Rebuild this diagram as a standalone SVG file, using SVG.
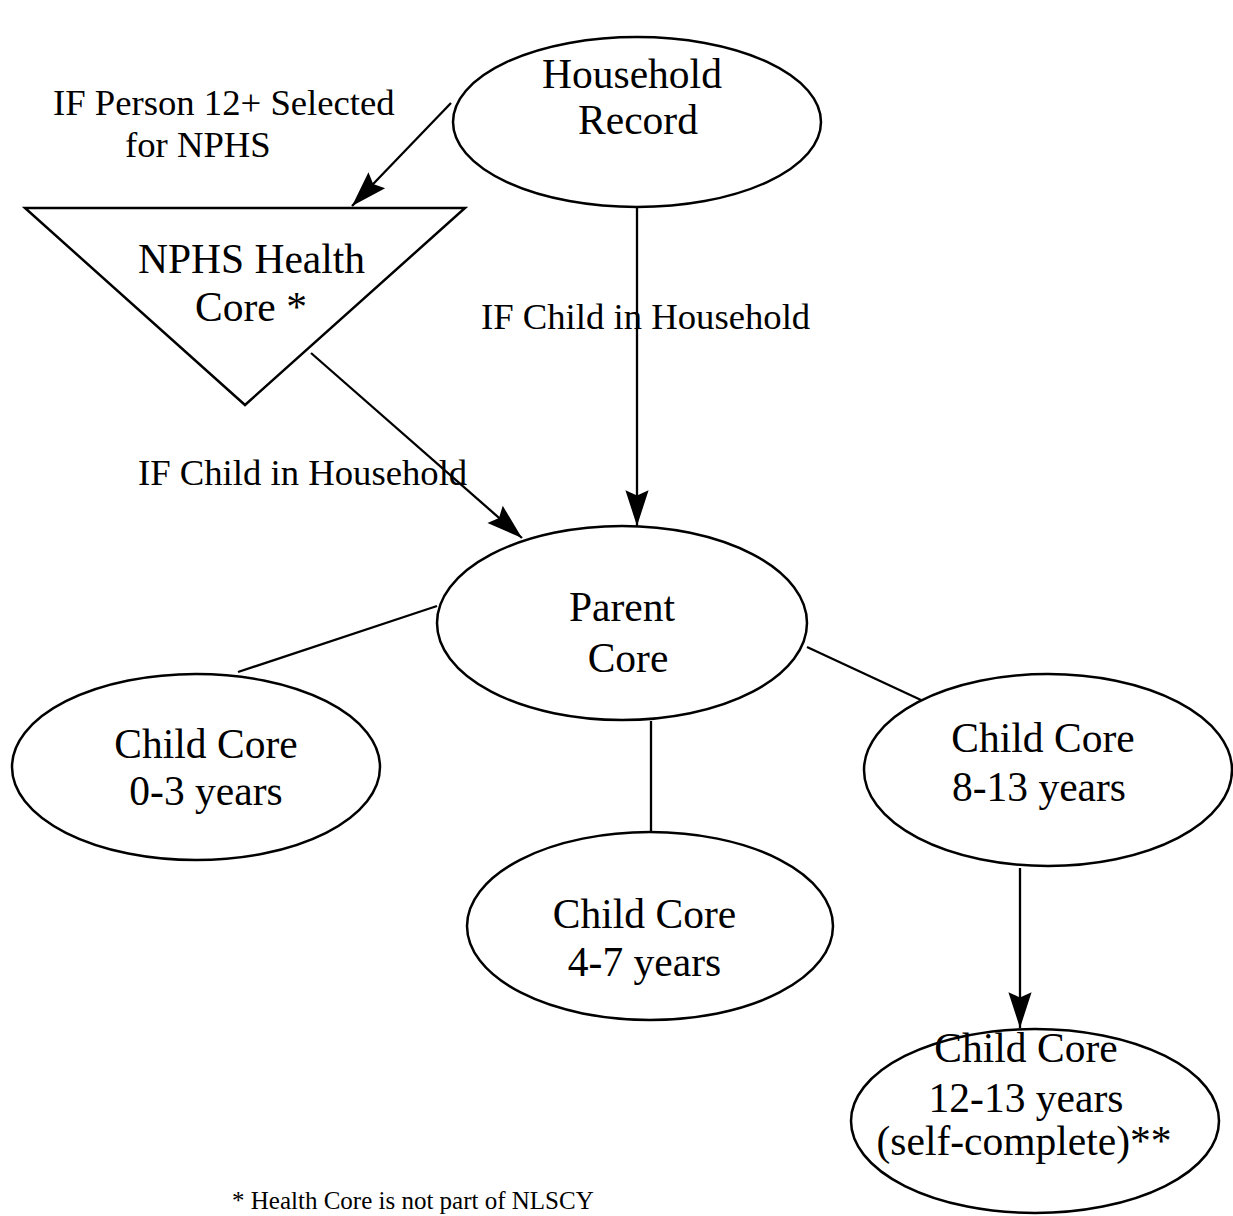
<svg xmlns="http://www.w3.org/2000/svg" width="1233" height="1216" viewBox="0 0 1233 1216">
<defs>
<marker id="arr" markerUnits="userSpaceOnUse" markerWidth="40" markerHeight="30" viewBox="-36 -13 38 26" refX="0" refY="0" orient="auto">
<path d="M0,0 L-34,-11 L-29,0 L-34,11 Z" fill="#000"/>
</marker>
<style>
.shape{fill:#fff;stroke:#000;stroke-width:2.5}
.edge{fill:none;stroke:#000;stroke-width:2.3}
.nt{font-family:"Liberation Serif","Times New Roman",serif;font-size:41.5px;fill:#000;text-anchor:middle}
.lt{font-family:"Liberation Serif","Times New Roman",serif;font-size:36.7px;fill:#000}
.ft{font-family:"Liberation Serif","Times New Roman",serif;font-size:25px;fill:#000}
</style>
</defs>
<rect width="1233" height="1216" fill="#fff"/>
<g id="connectors">
<line class="edge" x1="451" y1="103" x2="352" y2="206" marker-end="url(#arr)"/>
<line class="edge" x1="637" y1="207" x2="637" y2="526" marker-end="url(#arr)"/>
<line class="edge" x1="311" y1="353" x2="522" y2="538" marker-end="url(#arr)"/>
<line class="edge" x1="437" y1="606" x2="238" y2="672"/>
<line class="edge" x1="651" y1="721" x2="651" y2="832"/>
<line class="edge" x1="807" y1="647" x2="921" y2="700"/>
<line class="edge" x1="1020" y1="868" x2="1020" y2="1028" marker-end="url(#arr)"/>
<text class="lt" x="53" y="115">IF Person 12+ Selected</text>
<text class="lt" x="125" y="157">for NPHS</text>
<text class="lt" x="481" y="329">IF Child in Household</text>
<text class="lt" x="138" y="485">IF Child in Household</text>
</g>
<g id="household">
<ellipse class="shape" cx="637" cy="122" rx="184" ry="85"/>
<text class="nt" x="632" y="88">Household</text>
<text class="nt" x="638" y="134">Record</text>
</g>
<g id="nphs">
<polygon class="shape" points="25,208 465,208 245,405"/>
<text class="nt" x="251.5" y="273">NPHS Health</text>
<text class="nt" x="251" y="321">Core *</text>
</g>
<g id="parent">
<ellipse class="shape" cx="622" cy="623" rx="185" ry="97"/>
<text class="nt" x="622" y="621">Parent</text>
<text class="nt" x="628" y="672">Core</text>
</g>
<g id="child03">
<ellipse class="shape" cx="196" cy="767" rx="184" ry="93"/>
<text class="nt" x="206" y="758">Child Core</text>
<text class="nt" x="206" y="805">0-3 years</text>
</g>
<g id="child47">
<ellipse class="shape" cx="650" cy="926" rx="183" ry="94"/>
<text class="nt" x="644.5" y="928">Child Core</text>
<text class="nt" x="644.5" y="976">4-7 years</text>
</g>
<g id="child813">
<ellipse class="shape" cx="1048" cy="770" rx="184" ry="96"/>
<text class="nt" x="1043" y="752">Child Core</text>
<text class="nt" x="1039" y="801">8-13 years</text>
</g>
<g id="child1213">
<ellipse class="shape" cx="1035" cy="1121" rx="184" ry="92"/>
<text class="nt" x="1026" y="1062">Child Core</text>
<text class="nt" x="1026" y="1112">12-13 years</text>
<text class="nt" x="1024" y="1155">(self-complete)**</text>
</g>
<g id="footnote">
<text class="ft" x="232" y="1209">* Health Core is not part of NLSCY</text>
</g>
</svg>
